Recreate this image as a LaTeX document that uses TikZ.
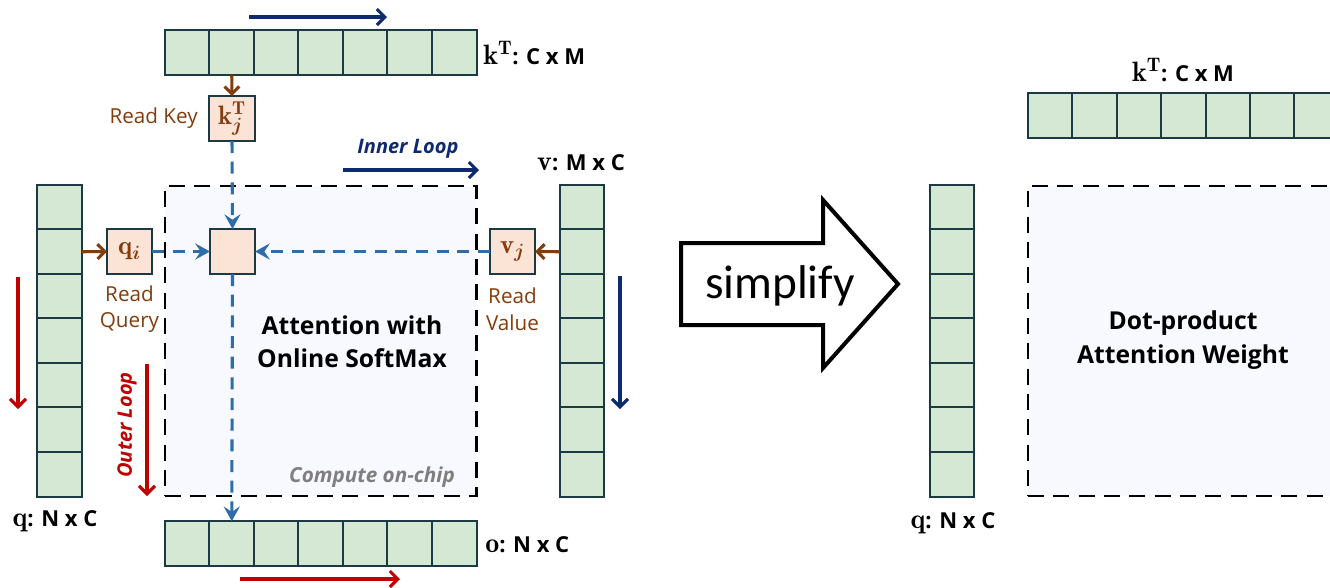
\documentclass[tikz,border=0pt]{standalone}
\usepackage{fontspec}
\setsansfont{Open Sans}
\newfontfamily\calibfont{Carlito}
\usepackage{bm}
\usetikzlibrary{arrows.meta}

\definecolor{cellfill}{HTML}{D5E8D4}
\definecolor{celldraw}{HTML}{1B3A44}
\definecolor{peach}{HTML}{FBE3D6}
\definecolor{brownc}{HTML}{843C0C}
\definecolor{flowblue}{HTML}{2E6DAA}
\definecolor{navy}{HTML}{0E2A6E}
\definecolor{loopred}{HTML}{C00000}
\definecolor{chipfill}{HTML}{F7F9FE}
\definecolor{chipgray}{HTML}{7F7F7F}

% bold vector symbols set a little larger than the surrounding sans text
\newcommand{\vecsym}[1]{{\fontsize{21}{21}\selectfont$#1$}}

\tikzset{
  cell/.style={draw=celldraw, fill=cellfill, line width=1.5pt,
    minimum width=33.4pt, minimum height=33.4pt, inner sep=0pt, outer sep=0pt},
  vecbox/.style={draw=celldraw, fill=peach, line width=1.5pt,
    minimum width=33.8pt, minimum height=33.8pt, inner sep=0pt, outer sep=0pt,
    text=brownc, font=\fontsize{20}{20}\selectfont},
  feed/.style={brownc, line width=2.3pt, -{Straight Barb[length=5.5pt,width=11pt]}},
  flow/.style={flowblue, line width=2.3pt, dash pattern=on 9pt off 6.5pt,
    -{Stealth[length=11pt,width=12pt,inset=4pt]}},
  looparrow/.style={line width=2.3pt, -{Straight Barb[length=6pt,width=12pt]}},
  chipbox/.style={draw=black, fill=chipfill, line width=2.2pt,
    dash pattern=on 12pt off 7pt, inner sep=0pt},
  dimlabel/.style={font=\sffamily\bfseries\fontsize{16.5}{19}\selectfont, inner sep=0pt},
  readlabel/.style={text=brownc, font=\sffamily\fontsize{15.5}{20}\selectfont,
    align=center, inner sep=0pt},
  boldtitle/.style={font=\sffamily\bfseries\fontsize{18.5}{25}\selectfont,
    align=center, inner sep=0pt},
}

\begin{document}
\begin{tikzpicture}[x=0.75pt, y=-0.75pt]
\useasboundingbox (0,0) rectangle (1330,587);

% ---------------- streaming attention ----------------
% on-chip compute region
\node[chipbox, minimum width=233.3pt, minimum height=232.5pt] (chip) at (320.5,341) {};

% key row (transposed)
\foreach \i in {1,...,7}
  \node[cell] (kc\i) at ({165+44.5*(\i-0.5)},52.5) {};
% query column
\foreach \i in {1,...,7}
  \node[cell] (qc\i) at (59.5,{185+44.5*(\i-0.5)}) {};
% value column
\foreach \i in {1,...,7}
  \node[cell] (vc\i) at (582,{185+44.5*(\i-0.5)}) {};
% output row
\foreach \i in {1,...,7}
  \node[cell] (oc\i) at ({165+44.5*(\i-0.5)},543.5) {};

% tiles loaded on chip
\node[vecbox] (kj) at (232,118.5) {$\mathbf{k}_{\bm{j}}^{\mathbf{T}}$};
\node[vecbox] (qi) at (129.5,251.5) {$\mathbf{q}_{\bm{i}}$};
\node[vecbox] (vj) at (512.5,251.5) {$\mathbf{v}_{\bm{j}}$};
\node[vecbox] (ctr) at (232.5,251.5) {};

% reads from memory
\draw[feed] (kc2.south) -- (kj.north);
\draw[feed] (qc2.east) -- (qi.west);
\draw[feed] (vc2.west) -- (vj.east);

% data flow into and out of the compute tile
\draw[flow] (kj.south) -- (ctr.north);
\draw[flow] (qi.east) -- (ctr.west);
\draw[flow] (vj.west) -- (ctr.east);
\draw[flow] (ctr.south) -- (oc2.north);

% labels
\node[dimlabel, anchor=west] (klab) at (483,53) {\vecsym{\mathbf{k}^{\mathbf{T}}}: C x M};
\node[dimlabel] (vlab) at (581,163) {\vecsym{\mathbf{v}}: M x C};
\node[dimlabel] (qlab) at (55,521) {\vecsym{\mathbf{q}}: N x C};
\node[dimlabel, anchor=west] (olab) at (485,545) {\vecsym{\mathbf{o}}: N x C};

\node[readlabel, anchor=east] (rk) at (198,118) {Read Key};
\node[readlabel] (rq) at (129.5,309) {Read\\Query};
\node[readlabel] (rv) at (512.5,309) {Read\\Value};

\node[boldtitle] (att) at (352,342) {Attention with\\Online SoftMax};
\node[font=\sffamily\bfseries\itshape\fontsize{15.5}{19}\selectfont, text=chipgray,
  inner sep=0pt] (onchip) at (372,477) {Compute on-chip};

% loop directions
\coordinate (ka) at (249,17);   \coordinate (kb) at (387,17);
\draw[looparrow, navy] (ka) -- (kb);
\coordinate (ia) at (343,170);  \coordinate (ib) at (479,170);
\draw[looparrow, navy] (ia) -- (ib);
\node[font=\sffamily\bfseries\itshape\fontsize{15}{18}\selectfont, text=navy,
  inner sep=0pt] (inner) at (408,149) {Inner Loop};
\coordinate (va) at (620,276);  \coordinate (vb) at (620,409);
\draw[looparrow, navy] (va) -- (vb);

\coordinate (qa) at (18,277);   \coordinate (qb) at (18,409);
\draw[looparrow, loopred] (qa) -- (qb);
\coordinate (oa) at (147,364);  \coordinate (ob) at (147,496);
\draw[looparrow, loopred] (oa) -- (ob);
\node[font=\sffamily\bfseries\itshape\fontsize{15}{18}\selectfont, text=loopred,
  rotate=90, inner sep=0pt] (outer) at (127,425) {Outer Loop};
\coordinate (ra) at (240,579);  \coordinate (rb) at (400,579);
\draw[looparrow, loopred] (ra) -- (rb);

% ---------------- simplify arrow ----------------
\draw[line width=3pt, line join=miter, fill=white]
  (681,243) -- (823,243) -- (823,200) -- (898,284) -- (823,368) -- (823,325) -- (681,325) -- cycle;
\node[font=\calibfont\fontsize{35.5}{40}\selectfont, inner sep=0pt] (simp) at (780,286) {simplify};

% ---------------- dot-product attention ----------------
\begin{scope}
\clip (0,0) rectangle (1330,587);
\node[chipbox, minimum width=233.3pt, minimum height=232.5pt] (dp) at (1183.5,341) {};
\foreach \i in {1,...,7}
  \node[cell] (rk\i) at ({1028+44.4*(\i-0.5)},115.5) {};
\end{scope}
\foreach \i in {1,...,7}
  \node[cell] (rq\i) at (952,{185+44.5*(\i-0.5)}) {};

\node[dimlabel] (rklab) at (1183,70) {\vecsym{\mathbf{k}^{\mathbf{T}}}: C x M};
\node[dimlabel] (rqlab) at (953,523) {\vecsym{\mathbf{q}}: N x C};
\node[boldtitle] (dptext) at (1183,340) {Dot-product\\Attention Weight};
\end{tikzpicture}
\end{document}
